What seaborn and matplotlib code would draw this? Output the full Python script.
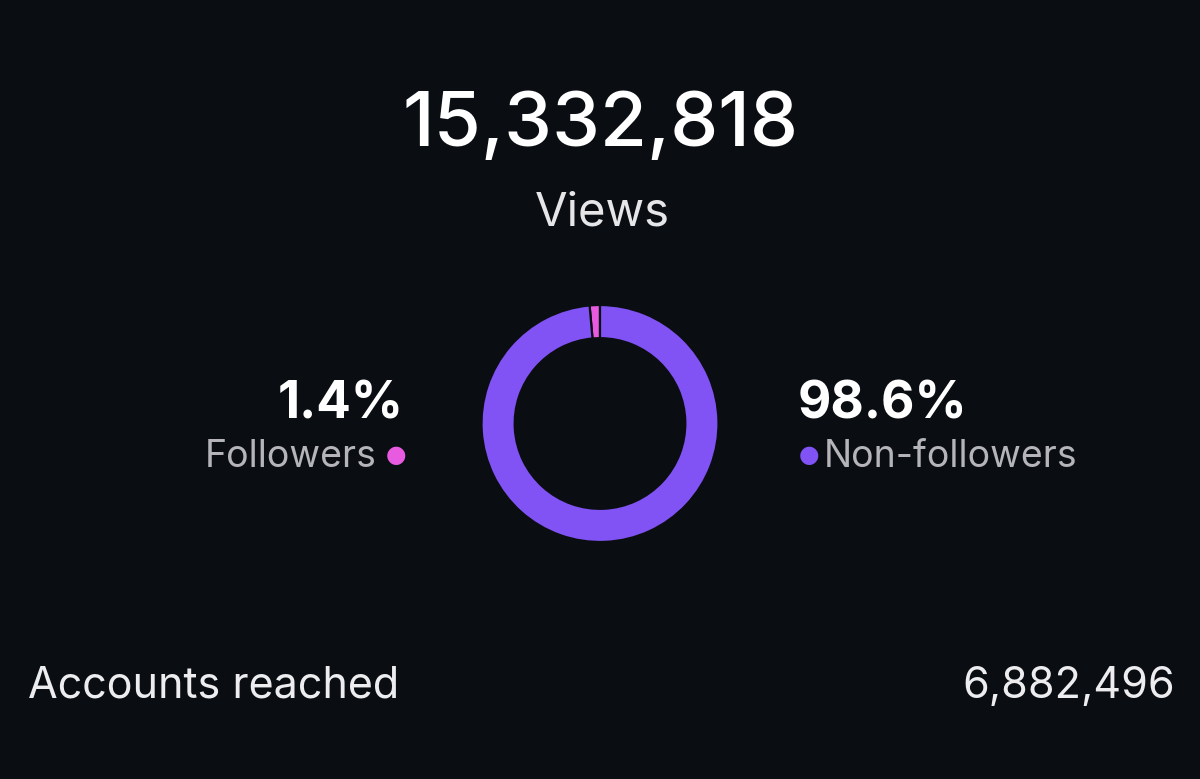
import numpy as np
import seaborn as sns
import matplotlib.pyplot as plt

# data
segments = ["Followers", "Non-followers"]
shares = [1.4, 98.6]
seg_colors = ["#e85ae0", "#8152f4"]
total_views = "15,332,818"
views_label = "Views"
reach_label = "Accounts reached"
reach_value = "6,882,496"

bg = "#0a0e13"
sns.set_theme(style="dark")
plt.rcParams['font.family'] = ['Inter', 'DejaVu Sans']

W, H = 1200, 779
fig = plt.figure(figsize=(W / 100, H / 100), dpi=100, facecolor=bg)

def px(x, y):
    return x / W, 1 - y / H

# donut
cx, cy, r = 600, 423.5, 118.5
ax = fig.add_axes([(cx - r) / W, (H - cy - r) / H, 2 * r / W, 2 * r / H])
ax.set_facecolor(bg)
ax.pie(shares, colors=seg_colors, startangle=90, counterclock=True,
       wedgeprops=dict(width=0.28, edgecolor=bg, linewidth=1.6))
ax.set_xlim(-1, 1)
ax.set_ylim(-1, 1)
ax.set_axis_off()

# headline
fig.text(*px(600, 126), total_views, color="white", fontsize=55, fontweight="medium",
         ha="center", va="center")
fig.text(*px(602, 214), views_label, color="#e6e6e8", fontsize=34, ha="center", va="center")

# left label
fig.text(*px(404, 405), f"{shares[0]}%", color="white", fontsize=37, fontweight="bold",
         ha="right", va="center")
fig.text(*px(377, 457), segments[0], color="#b4b4ba", fontsize=27, ha="right", va="center")
fig.text(*px(396, 455), "\u25cf", color=seg_colors[0], fontsize=17, ha="center", va="center",
         family=['DejaVu Sans'])

# right label
fig.text(*px(798, 405), f"{shares[1]}%", color="white", fontsize=37, fontweight="bold",
         ha="left", va="center")
fig.text(*px(824, 457), segments[1], color="#b4b4ba", fontsize=27, ha="left", va="center")
fig.text(*px(809, 455), "\u25cf", color=seg_colors[1], fontsize=17, ha="center", va="center",
         family=['DejaVu Sans'])

# bottom row
fig.text(*px(28, 686), reach_label, color="#ededf0", fontsize=31, ha="left", va="center")
fig.text(*px(1175, 686), reach_value, color="#ededf0", fontsize=31, ha="right", va="center")

fig.savefig("out.png", dpi=100, facecolor=bg)
